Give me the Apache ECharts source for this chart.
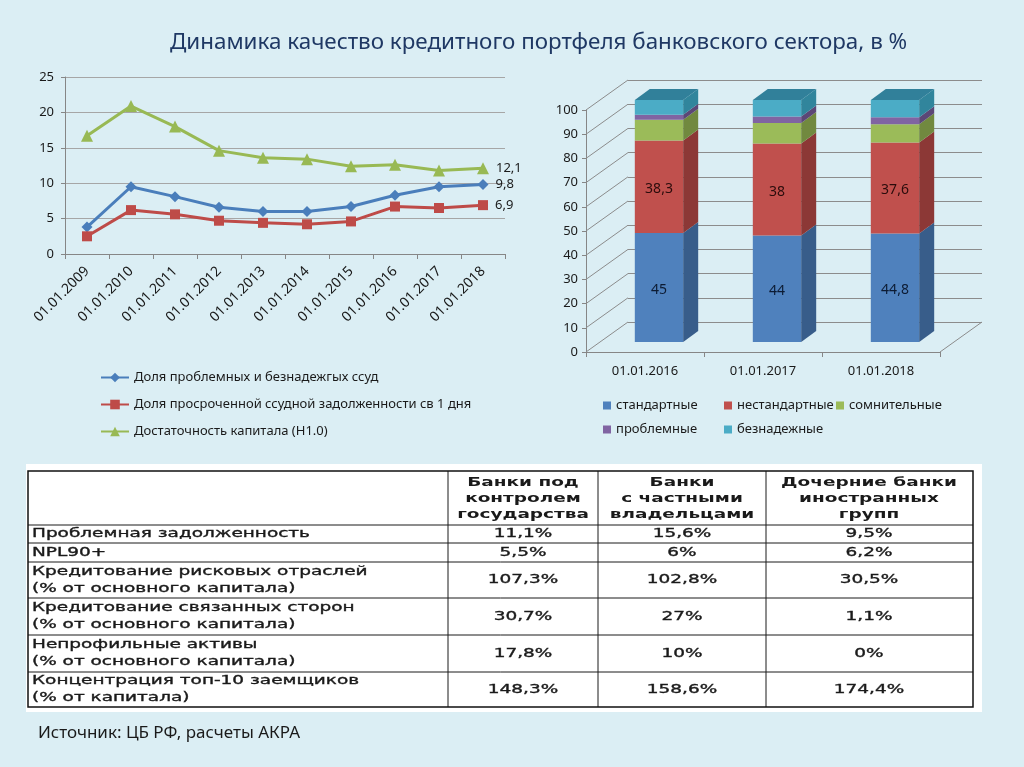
<!DOCTYPE html>
<html><head><meta charset="utf-8">
<script src="https://cdn.jsdelivr.net/npm/echarts@6/dist/echarts.min.js"></script>
<style>html,body{margin:0;padding:0;background:#dbeef4;}#c{width:1024px;height:767px;}</style>
</head><body><div id="c"></div>
<script>
// ---- line chart data ----
const lineCategories = ['01.01.2009','01.01.2010','01.01.2011','01.01.2012','01.01.2013','01.01.2014','01.01.2015','01.01.2016','01.01.2017','01.01.2018'];
const problemLoans = [3.8, 9.5, 8.1, 6.6, 6.0, 6.0, 6.7, 8.3, 9.5, 9.8];
const overdueLoans = [2.5, 6.2, 5.6, 4.7, 4.4, 4.2, 4.6, 6.7, 6.5, 6.9];
const capitalAdequacy = [16.7, 20.9, 18.0, 14.6, 13.6, 13.4, 12.4, 12.6, 11.8, 12.1];
const lineNames = ['Доля проблемных и безнадежгых ссуд', 'Доля просроченной ссудной задолженности св 1 дня', 'Достаточность капитала (Н1.0)'];

// ---- 3D stacked bar data ----
const barCategories = ['01.01.2016','01.01.2017','01.01.2018'];
const standard    = [45, 44, 44.8];
const nonstandard = [38.3, 38, 37.6];
const doubtful    = [8.5, 8.5, 7.6];
const problem     = [2.1, 2.7, 2.9];
const hopeless    = [6.1, 6.8, 7.1];
const barNames = ['стандартные','нестандартные','сомнительные','проблемные','безнадежные'];
const barTicks = [0,10,20,30,40,50,60,70,80,90,100];

// ---- table data ----
const tableHeaders = ['Банки под\nконтролем\nгосударства', 'Банки\nс частными\nвладельцами', 'Дочерние банки\nиностранных\nгрупп'];
const tableRows = ['Проблемная задолженность', 'NPL90+', 'Кредитование рисковых отраслей\n(% от основного капитала)', 'Кредитование связанных сторон\n(% от основного капитала)', 'Непрофильные активы\n(% от основного капитала)', 'Концентрация топ-10 заемщиков\n(% от капитала)'];
const stateBanks   = ['11,1%','5,5%','107,3%','30,7%','17,8%','148,3%'];
const privateBanks = ['15,6%','6%','102,8%','27%','10%','158,6%'];
const foreignBanks = ['9,5%','6,2%','30,5%','1,1%','0%','174,4%'];

const FONT = '"Noto Sans", sans-serif';
const TFONT = '"DejaVu Sans", sans-serif';
const fmt = v => String(v).replace('.', ',');

// 3D projection parameters (pixels)
const DEPTH_X = 42, DEPTH_Y = 30;
const BAR_OX = 14, BAR_OY = 10;
const BAR_DX = 15, BAR_DY = 11;

const faces = ['#4f81bd','#c0504d','#9bbb59','#8064a2','#4bacc6'];
const sides = ['#385d8a','#8c3836','#71893f','#5c4776','#31859c'];
const tops  = ['#385d8a','#8c3836','#71893f','#5c4776','#31809a'];
const labelColors = ['#0c1b33','#2a0c0c', null, null, null];
const segArrays = [standard, nonstandard, doubtful, problem, hopeless];

function barData(k) {
  return barCategories.map((c, i) => {
    let lo = 0;
    for (let j = 0; j < k; j++) lo += segArrays[j][i];
    return [i, lo, lo + segArrays[k][i], segArrays[k][i]];
  });
}

function barRender(k) {
  return function (params, api) {
    const i = api.value(0), lo = api.value(1), hi = api.value(2), v = api.value(3);
    const pLo = api.coord([i, lo]), pHi = api.coord([i, hi]);
    const bw = api.size([1, 0])[0] * 0.41;
    const cx = pLo[0] + BAR_OX, yb = pLo[1] - BAR_OY, yt = pHi[1] - BAR_OY;
    const x0 = cx - bw / 2, x1 = cx + bw / 2;
    const children = [
      { type: 'rect', shape: { x: x0, y: yt, width: bw, height: yb - yt }, style: { fill: faces[k] } },
      { type: 'polygon', shape: { points: [[x1, yb], [x1 + BAR_DX, yb - BAR_DY], [x1 + BAR_DX, yt - BAR_DY], [x1, yt]] }, style: { fill: sides[k] } }
    ];
    if (k === segArrays.length - 1) {
      children.push({ type: 'polygon', shape: { points: [[x0, yt], [x1, yt], [x1 + BAR_DX, yt - BAR_DY], [x0 + BAR_DX, yt - BAR_DY]] }, style: { fill: tops[k] } });
    }
    if (labelColors[k]) {
      children.push({ type: 'text', style: { text: fmt(v), x: cx, y: (yb + yt) / 2 + 2, align: 'center', verticalAlign: 'middle', textAlign: 'center', textVerticalAlign: 'middle', fill: labelColors[k], font: '14px ' + FONT } });
    }
    return { type: 'group', children };
  };
}

function wallRender(params, api) {
  const v = api.value(0);
  const p = api.coord([0, v]);
  const cs = params.coordSys;
  const x0 = cs.x, x1 = cs.x + cs.width, y = p[1];
  const children = [
    { type: 'line', shape: { x1: x0, y1: y, x2: x0 + DEPTH_X, y2: y - DEPTH_Y }, style: { stroke: '#8c8c8c', lineWidth: 1 } }
  ];
  if (v === 0) {
    children.push({ type: 'line', shape: { x1: x1, y1: y, x2: x1 + DEPTH_X, y2: y - DEPTH_Y }, style: { stroke: '#8c8c8c', lineWidth: 1 } });
  }
  return { type: 'group', children };
}

// ---- table graphics ----
const ctx = document.createElement('canvas').getContext('2d');
ctx.font = '12px "DejaVu Sans"';
const TSX = 278 / ctx.measureText(tableRows[0]).width;

const T = { left: 28, right: 973, top: 471, bottom: 707 };
const colX = [448, 598, 766];
const colCenters = [523, 682, 869];
const rowTops = [525, 543, 562, 598, 635, 672];
const rowBots = [543, 562, 598, 635, 672, 707];
const tableEls = [];
tableEls.push({ type: 'rect', shape: { x: 26, y: 464, width: 956, height: 248 }, style: { fill: '#ffffff' } });
colX.forEach(x => tableEls.push({ type: 'line', shape: { x1: x, y1: T.top, x2: x, y2: T.bottom }, style: { stroke: '#1a1a1a', lineWidth: 1 } }));
rowTops.forEach(y => tableEls.push({ type: 'line', shape: { x1: T.left, y1: y, x2: T.right, y2: y }, style: { stroke: '#1a1a1a', lineWidth: 1 } }));
tableEls.push({ type: 'rect', shape: { x: T.left, y: T.top, width: T.right - T.left, height: T.bottom - T.top }, style: { fill: 'none', stroke: '#111', lineWidth: 1.5 } });
function tText(text, x, y, align, bold, lh) {
  const st = { text, x: 0, y: 0, align, verticalAlign: 'middle', textAlign: align, textVerticalAlign: 'middle', fill: '#1a1a1a', fontSize: 12, fontFamily: TFONT, fontWeight: bold ? 'bold' : 'normal', lineHeight: lh };
  if (!bold) { st.stroke = '#1a1a1a'; st.lineWidth = 0.35; }
  return { type: 'text', x: x, y: y, scaleX: TSX, style: st };
}
tableHeaders.forEach((h, c) => tableEls.push(tText(h, colCenters[c], (T.top + rowTops[0]) / 2 + 1, 'center', true, 16)));
tableRows.forEach((r, i) => {
  const yc = (rowTops[i] + rowBots[i]) / 2;
  tableEls.push(tText(r, 32, yc, 'left', false, 17));
  [stateBanks, privateBanks, foreignBanks].forEach((arr, c) => tableEls.push(tText(arr[i], colCenters[c], yc, 'center', false, 17)));
});

const chart = echarts.init(document.getElementById('c'));
const series = [
  { name: lineNames[0], type: 'line', xAxisIndex: 0, yAxisIndex: 0, data: problemLoans, symbol: 'diamond', symbolSize: 11, lineStyle: { width: 3, color: '#4a7ebb' }, itemStyle: { color: '#4a7ebb' } },
  { name: lineNames[1], type: 'line', xAxisIndex: 0, yAxisIndex: 0, data: overdueLoans, symbol: 'rect', symbolSize: 10, lineStyle: { width: 3, color: '#be4b48' }, itemStyle: { color: '#be4b48' } },
  { name: lineNames[2], type: 'line', xAxisIndex: 0, yAxisIndex: 0, data: capitalAdequacy, symbol: 'triangle', symbolSize: 12, lineStyle: { width: 3, color: '#98b954' }, itemStyle: { color: '#98b954' } }
].map(s => Object.assign(s, {
  animation: false,
  label: { show: true, position: 'right', distance: 7, color: '#1a1a1a', fontSize: 13, fontFamily: FONT,
    formatter: p => p.dataIndex === lineCategories.length - 1 ? fmt(p.value) : '' }
}));
series.push({ type: 'custom', xAxisIndex: 1, yAxisIndex: 1, data: barTicks.map(v => [v]), renderItem: wallRender, silent: true, z: 1, animation: false });
barNames.forEach((n, k) => series.push({ name: n, type: 'custom', xAxisIndex: 1, yAxisIndex: 1, data: barData(k), renderItem: barRender(k), itemStyle: { color: faces[k] }, encode: { x: 0, y: [1, 2] }, z: 3, animation: false }));

const legendText = { color: '#1a1a1a', fontSize: 13, fontFamily: FONT };
chart.setOption({
  backgroundColor: '#dbeef4',
  animation: false,
  title: { text: 'Динамика качество кредитного портфеля банковского сектора, в %', left: 165, top: 27, textStyle: { color: '#1f3864', fontSize: 22.4, fontWeight: 'normal', fontFamily: FONT } },
  grid: [
    { left: 65, top: 77, width: 440, height: 177 },
    { left: 586, top: 110, width: 354, height: 242 },
    { left: 628, top: 80, width: 354, height: 242 }
  ],
  xAxis: [
    { type: 'category', gridIndex: 0, data: lineCategories, boundaryGap: true, axisLine: { lineStyle: { color: '#868686' } }, axisTick: { show: true, length: 5, lineStyle: { color: '#868686' } }, axisLabel: { rotate: 45, color: '#1a1a1a', fontSize: 14, fontFamily: FONT, margin: 15, interval: 0 } },
    { type: 'category', gridIndex: 1, data: barCategories, boundaryGap: true, axisLine: { lineStyle: { color: '#868686' } }, axisTick: { show: true, length: 5, lineStyle: { color: '#868686' } }, axisLabel: { color: '#1a1a1a', fontSize: 13, fontFamily: FONT, margin: 13 } },
    { type: 'category', gridIndex: 2, data: barCategories, show: false }
  ],
  yAxis: [
    { type: 'value', gridIndex: 0, min: 0, max: 25, interval: 5, axisLine: { show: true, lineStyle: { color: '#868686' } }, axisTick: { show: true, length: 4, lineStyle: { color: '#868686' } }, axisLabel: { color: '#1a1a1a', fontSize: 13, fontFamily: FONT, margin: 11 }, splitLine: { lineStyle: { color: '#a6a6a6', width: 1 } } },
    { type: 'value', gridIndex: 1, min: 0, max: 100, interval: 10, axisLine: { show: true, lineStyle: { color: '#868686' } }, axisTick: { show: true, length: 4, lineStyle: { color: '#868686' } }, axisLabel: { color: '#1a1a1a', fontSize: 13, fontFamily: FONT, margin: 8 }, splitLine: { show: false } },
    { type: 'value', gridIndex: 2, min: 0, max: 100, interval: 10, axisLine: { show: false }, axisTick: { show: false }, axisLabel: { show: false }, splitLine: { lineStyle: { color: '#8c8c8c', width: 1 } } }
  ],
  legend: [
    { data: lineNames, orient: 'vertical', left: 100, top: 371, padding: 0, itemWidth: 28, itemHeight: 12, itemGap: 14, textStyle: legendText, selectedMode: false },
    { data: [barNames[0], barNames[3]], orient: 'vertical', left: 603, top: 399, padding: 0, icon: 'rect', itemWidth: 8, itemHeight: 8, itemGap: 11, textStyle: legendText, selectedMode: false },
    { data: [barNames[1], barNames[4]], orient: 'vertical', left: 724, top: 399, padding: 0, icon: 'rect', itemWidth: 8, itemHeight: 8, itemGap: 11, textStyle: legendText, selectedMode: false },
    { data: [barNames[2]], orient: 'vertical', left: 836, top: 399, padding: 0, icon: 'rect', itemWidth: 8, itemHeight: 8, itemGap: 11, textStyle: legendText, selectedMode: false }
  ],
  graphic: tableEls.concat([
    { type: 'text', x: 38, y: 733, style: { text: 'Источник: ЦБ РФ, расчеты АКРА', x: 0, y: 0, verticalAlign: 'middle', textVerticalAlign: 'middle', fill: '#1a1a1a', fontSize: 17, fontFamily: FONT } }
  ]),
  series
});
</script></body></html>
